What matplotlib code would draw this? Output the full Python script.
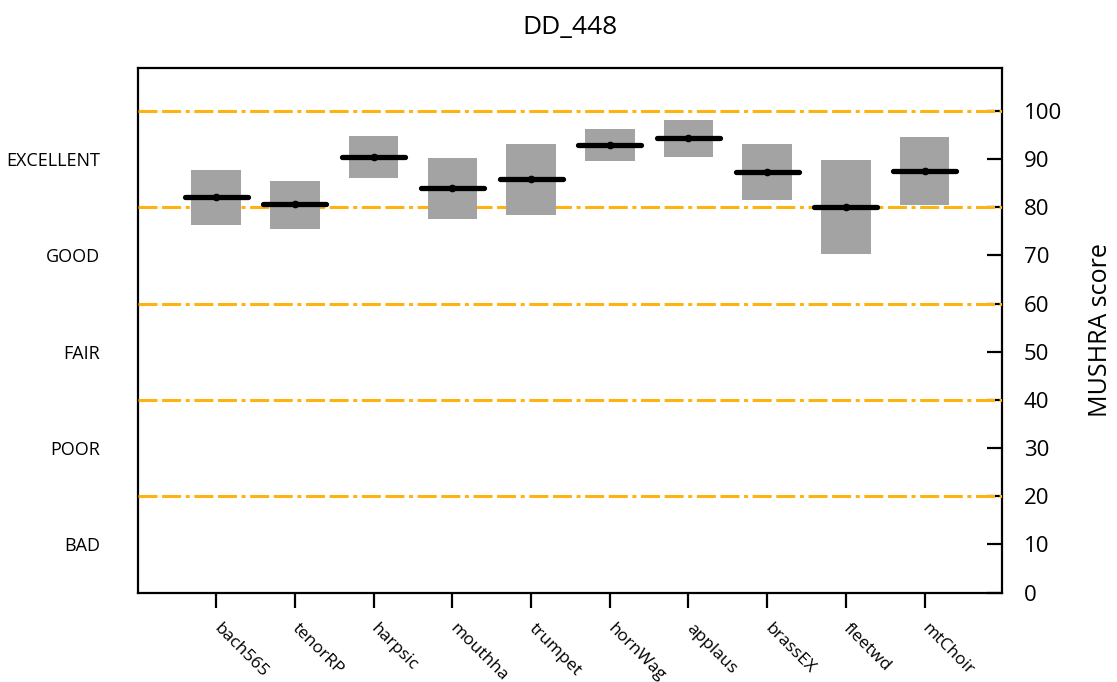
import matplotlib
matplotlib.use("Agg")
import matplotlib.pyplot as plt
import matplotlib.transforms as mtransforms
from matplotlib.patches import Rectangle

plt.rcParams['font.family'] = ['Open Sans', 'DejaVu Sans']
plt.rcParams['lines.scale_dashes'] = False

# Per-item listening test results (MUSHRA scale)
items = ["bach565", "tenorRP", "harpsic", "mouthha", "trumpet",
         "hornWag", "applaus", "brassEX", "fleetwd", "mtChoir"]
means = [82.2, 80.6, 90.5, 83.9, 85.8, 92.9, 94.3, 87.3, 80.1, 87.6]
ci_low = [76.3, 75.5, 86.1, 77.5, 78.4, 89.6, 90.4, 81.5, 70.3, 80.4]
ci_high = [87.8, 85.4, 94.7, 90.2, 93.2, 96.2, 98.0, 93.2, 89.8, 94.5]

grade_levels = [20, 40, 60, 80, 100]
grade_names = ["EXCELLENT", "GOOD", "FAIR", "POOR", "BAD"]
grade_centers = [90, 70, 50, 30, 10]
score_ticks = list(range(0, 101, 10))

title = "DD_448"
ylabel = "MUSHRA score"

fig = plt.figure(figsize=(11.17, 6.82), dpi=100)
ax = fig.add_axes([0.1231, 0.1312, 0.7737, 0.7691])

positions = list(range(1, len(items) + 1))
box_w = 0.63
line_w = 0.80

# grade boundaries
for lvl in grade_levels:
    ax.axhline(lvl, color="#FFB313", lw=2.2, zorder=2.6,
               dashes=(13.7, 3.3, 13.7, 3.3, 2.9, 3.3), dash_capstyle="butt")

for x, m, lo, hi in zip(positions, means, ci_low, ci_high):
    ax.add_patch(Rectangle((x - box_w / 2, lo), box_w, hi - lo,
                           facecolor="#A3A3A3", edgecolor="none", zorder=3))
    ax.plot([x - line_w / 2, x + line_w / 2], [m, m], color="black",
            lw=3.8, solid_capstyle="round", zorder=4)
    ax.plot([x], [m], marker="o", ms=4.5, color="black", zorder=5)

ax.set_xlim(0, 10.98)
ax.set_ylim(0, 108.9)

for s in ax.spines.values():
    s.set_linewidth(1.6)

ax.set_xticks(positions)
ax.set_xticklabels(items, rotation=-45, ha="left", va="center",
                   rotation_mode="anchor", fontsize=12.5)
ax.tick_params(axis="x", direction="out", length=11, width=1.6, pad=13)

ax.yaxis.tick_right()
ax.set_yticks(score_ticks)
ax.set_yticklabels([str(t) for t in score_ticks], fontsize=16)
ax.tick_params(axis="y", direction="in", length=11, width=1.6, pad=16,
               left=False, right=True)
for lab in ax.get_yticklabels():
    lab.set_horizontalalignment("left")

# grade names on the left side
trans = mtransforms.blended_transform_factory(ax.transAxes, ax.transData)
for name, yc in zip(grade_names, grade_centers):
    ax.text(-0.043, yc, name, transform=trans, ha="right",
            va="center_baseline", fontsize=13)

fig.text(0.5103, 0.959, title, ha="center", va="center", fontsize=19)
fig.text(0.985, 0.516, ylabel, ha="center", va="center", rotation=90,
         fontsize=18)

fig.savefig("out.png", dpi=100)
